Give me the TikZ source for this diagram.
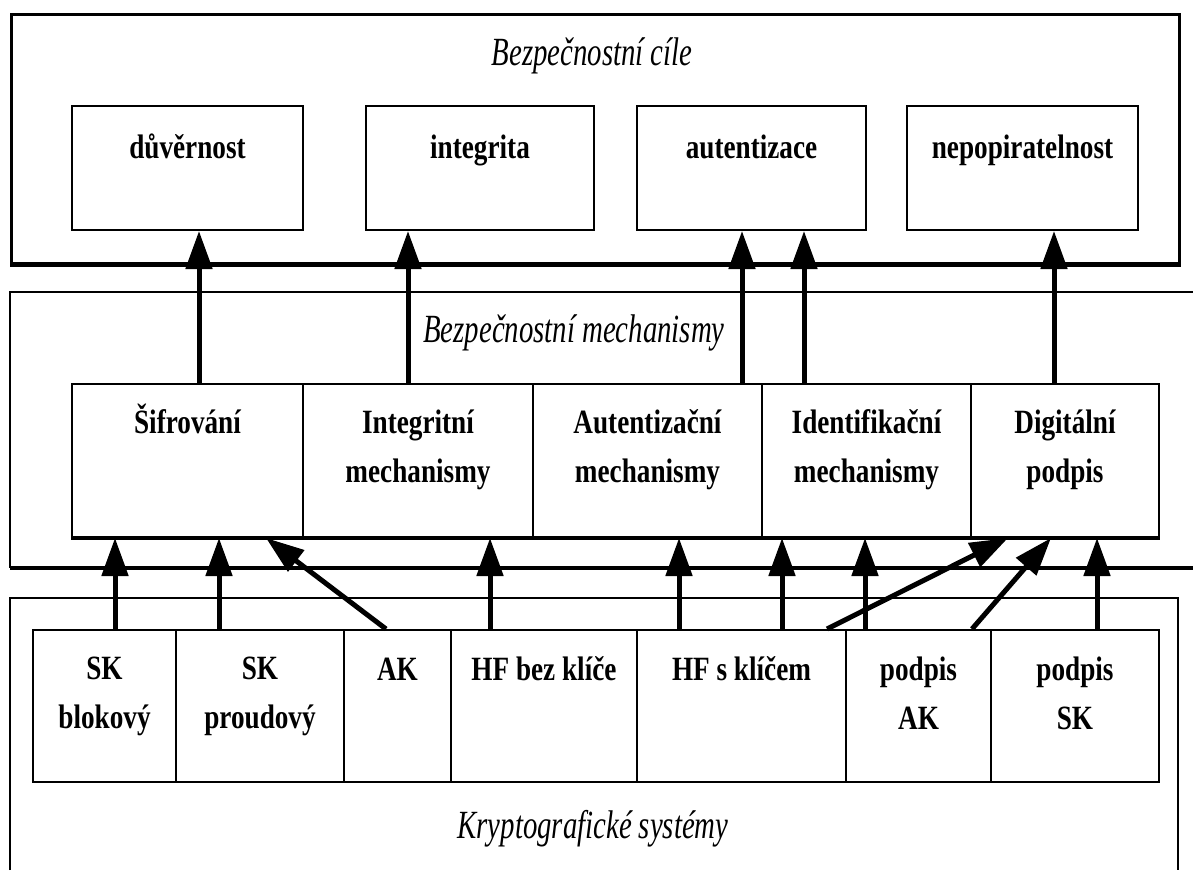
\documentclass[tikz,border=0pt]{standalone}
\usepackage{fontspec}
\setmainfont{Liberation Serif}
\newfontfamily\bodyf[FakeStretch=0.8]{Liberation Serif}
\newfontfamily\titlef[FakeStretch=0.72]{Liberation Serif}
\usetikzlibrary{arrows.meta,calc}
\newcommand\twol[2]{\vtop{\baselineskip=49pt\halign{\hfil##\hfil\cr#1\cr#2\cr}}}
\tikzset{
  box/.style={draw, line width=2pt, inner sep=0pt, anchor=north west},
  frame/.style={draw, line width=2.5pt},
  thickline/.style={line width=4pt},
  txt/.style={anchor=base, inner sep=0pt, font=\bodyf\bfseries\fontsize{34}{49}\selectfont},
  ttl/.style={anchor=base, inner sep=0pt, font=\titlef\itshape\fontsize{40}{48}\selectfont},
  arr/.style={line width=5pt, -{Triangle[width=26pt,length=38pt]}}
}
\newcommand\bx[5]{\node[box, minimum width=#3pt-#2pt, minimum height=#5pt-#4pt] (#1) at (#2,#4) {};}
\begin{document}
\begin{tikzpicture}[x=1pt,y=-1pt]
\useasboundingbox (0,0) rectangle (1193,870);
% outer frames
\node[frame, inner sep=0pt, anchor=north west, minimum width=1168pt, minimum height=249pt] (goals) at (10,13) {};
\draw[thickline] (goals.south west) -- (goals.south east);
\draw[frame] (1193,292) coordinate (mtr) -- (10,292) -- (10,568) coordinate (mbl);
\draw[thickline] (mbl) -- (1193,568) coordinate (mbr);
\draw[frame] (10,870) coordinate (cbl) -- (10,598) -- (1178,598) -- (1178,870) coordinate (cbr);
% titles
\node[ttl] (tg) at (592,65) {Bezpečnostní cíle};
\node[ttl] (tm) at (574,342) {Bezpečnostní mechanismy};
\node[ttl] (tc) at (593,838) {Kryptografické systémy};
% goal boxes
\bx{g1}{71}{302}{105}{229}
\bx{g2}{365}{593}{105}{229}
\bx{g3}{636}{865}{105}{229}
\bx{g4}{906}{1137}{105}{229}
\node[txt] (tg1) at (g1.north |- 0,158) {důvěrnost};
\node[txt] (tg2) at (g2.north |- 0,158) {integrita};
\node[txt] (tg3) at (g3.north |- 0,158) {autentizace};
\node[txt] (tg4) at (g4.north |- 0,158) {nepopiratelnost};
% mechanism boxes
\bx{m1}{71}{302}{383}{536}
\bx{m2}{302}{532}{383}{536}
\bx{m3}{532}{761}{383}{536}
\bx{m4}{761}{970}{383}{536}
\bx{m5}{970}{1158}{383}{536}
\draw[thickline] (m1.south west) -- (m5.south east);
\node[txt] (tm1) at (m1.north |- 0,433) {Šifrování};
\node[txt] (tm2) at (m2.north |- 0,433) {\twol{Integritní}{mechanismy}};
\node[txt] (tm3) at (m3.north |- 0,433) {\twol{Autentizační}{mechanismy}};
\node[txt] (tm4) at (m4.north |- 0,433) {\twol{Identifikační}{mechanismy}};
\node[txt] (tm5) at (m5.north |- 0,433) {\twol{Digitální}{podpis}};
% crypto boxes
\bx{c1}{32}{175}{629}{781}
\bx{c2}{175}{343}{629}{781}
\bx{c3}{343}{450}{629}{781}
\bx{c4}{450}{636}{629}{781}
\bx{c5}{636}{845}{629}{781}
\bx{c6}{845}{990}{629}{781}
\bx{c7}{990}{1158}{629}{781}
\node[txt] (tc1) at (c1.north |- 0,679) {\twol{SK}{blokový}};
\node[txt] (tc2) at (c2.north |- 0,679) {\twol{SK}{proudový}};
\node[txt] (tc3) at (c3.north |- 0,680) {AK};
\node[txt] (tc4) at (c4.north |- 0,680) {HF bez klíče};
\node[txt] (tc5) at (c5.north |- 0,680) {HF s klíčem};
\node[txt] (tc6) at (c6.north |- 0,680) {\twol{podpis}{AK}};
\node[txt] (tc7) at (c7.north |- 0,680) {\twol{podpis}{SK}};
% mechanisms -> goals
\draw[arr] ([xshift=11.5pt]m1.north) coordinate (a1) -- (a1 |- g1.south);
\draw[arr] ([xshift=-10pt]m2.north) coordinate (a2) -- (a2 |- g2.south);
\draw[arr] ([xshift=94.5pt]m3.north) coordinate (a3) -- (a3 |- g3.south);
\draw[arr] ([xshift=-62.5pt]m4.north) coordinate (a4) -- (a4 |- g3.south);
\draw[arr] ([xshift=-11pt]m5.north) coordinate (a5) -- (a5 |- g4.south);
% crypto -> mechanisms
\draw[arr] ([xshift=10.5pt]c1.north) coordinate (b1) -- (b1 |- m1.south);
\draw[arr] ([xshift=-41pt]c2.north) coordinate (b2) -- (b2 |- m1.south);
\draw[arr] ([xshift=-54pt]c4.north) coordinate (b3) -- (b3 |- m2.south);
\draw[arr] ([xshift=-62.5pt]c5.north) coordinate (b4) -- (b4 |- m3.south);
\draw[arr] ([xshift=40.5pt]c5.north) coordinate (b5) -- (b5 |- m4.south);
\draw[arr] ([xshift=-53.5pt]c6.north) coordinate (b6) -- (b6 |- m4.south);
\draw[arr] ([xshift=22pt]c7.north) coordinate (b7) -- (b7 |- m5.south);
% diagonal arrows
\draw[arr] ([xshift=-11.5pt]c3.north) -- ([xshift=78.5pt]m1.south);
\draw[arr] ([xshift=85.5pt]c5.north) -- ([xshift=-57pt]m5.south);
\draw[arr] ([xshift=53.5pt]c6.north) -- ([xshift=-14pt]m5.south);
\end{tikzpicture}
\end{document}
